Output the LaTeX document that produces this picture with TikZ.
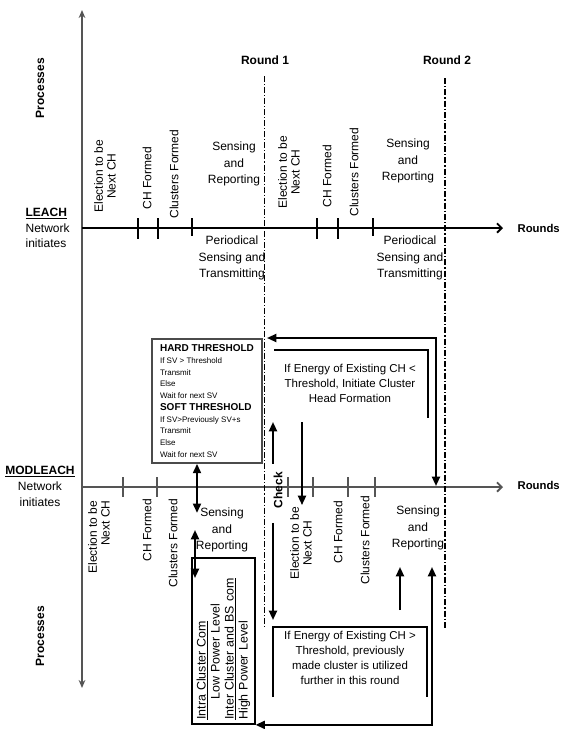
\documentclass[tikz,border=0pt]{standalone}
\usepackage{fontspec}
\setmainfont{Liberation Sans}
\usetikzlibrary{arrows.meta}
\definecolor{axisgray}{RGB}{85,85,85}
\definecolor{boxgray}{RGB}{75,75,75}

\tikzset{
  >={Triangle[length=7pt,width=6pt]},
  lbl/.style={font=\fontsize{9}{12.4}\selectfont, align=center, inner sep=1pt},
  vlbl/.style={lbl, rotate=90, font=\fontsize{9}{9.6}\selectfont},
  head/.style={font=\bfseries\fontsize{9}{11}\selectfont, inner sep=1pt},
  note/.style={font=\fontsize{8.6}{11.25}\selectfont, align=center, inner sep=1pt},
  flow/.style={line width=1.5pt},
  tickmark/.style={line width=1.1pt},
  bracket/.style={line width=1.4pt},
  roundline/.style={line width=0.6pt, dash pattern=on 4.5pt off 1.5pt on 0.8pt off 1.5pt},
  roundlinebold/.style={line width=1.3pt, dash pattern=on 4.5pt off 1.5pt on 1pt off 1.5pt},
  thrbox/.style={draw=boxgray, line width=1.3pt, minimum width=82.5pt, minimum height=93pt,
    align=left, inner sep=0pt, font=\fontsize{6}{8.8}\selectfont},
  combox/.style={draw, line width=1.3pt, rotate=90, minimum width=124.5pt, minimum height=42.75pt,
    text width=118pt, align=left, inner xsep=3pt, font=\fontsize{9.3}{10.5}\selectfont},
}
\newcommand{\thrhead}{\bfseries\fontsize{7.5}{8.8}\selectfont}

\begin{document}
\begin{tikzpicture}[x=0.75pt,y=0.75pt,yscale=-1,xscale=1]
\useasboundingbox (0,0) rectangle (561,729);

%Straight Lines (processes axis)
\coordinate (ptop) at (82,10);
\coordinate (pbot) at (82,688);
\draw[axisgray, line width=1.4pt, {Stealth[length=6pt,width=5pt]}-{Stealth[length=6pt,width=5pt]}] (ptop) -- (pbot);
%Straight Lines (LEACH rounds axis)
\coordinate (lo) at (82,228);
\coordinate (le) at (503,228);
\draw[line width=1.4pt, -{Straight Barb[length=3.5pt,width=7pt]}] (lo) -- (le);
%Straight Lines (MODLEACH rounds axis)
\coordinate (mo) at (82,487);
\coordinate (me) at (503,487);
\draw[axisgray, line width=1.4pt, -{Straight Barb[length=3.5pt,width=7pt]}] (mo) -- (me);

%Straight Lines (round borders)
\coordinate (r1top) at (264,76);
\coordinate (r1bot) at (264,628);
\draw[roundline] (r1top) -- (r1bot);
\coordinate (r2top) at (445,78);
\coordinate (r2bot) at (445,628);
\draw[roundlinebold] (r2top) -- (r2bot);

%Straight Lines (ticks)
\draw[tickmark] (138,218) -- (138,239);
\draw[tickmark] (158,218) -- (158,239);
\draw[tickmark] (192,218) -- (192,236);
\draw[tickmark] (317,218) -- (317,239);
\draw[tickmark] (338,218) -- (338,239);
\draw[tickmark] (373,218) -- (373,236);
\draw[tickmark, axisgray] (123,477) -- (123,497);
\draw[tickmark, axisgray] (157,477) -- (157,497);
\draw[tickmark, axisgray] (288,477) -- (288,497);
\draw[tickmark, axisgray] (313,477) -- (313,497);
\draw[tickmark, axisgray] (348,477) -- (348,497);
\draw[tickmark, axisgray] (375,477) -- (375,497);

% Text Node
\node[head, rotate=90] (proctop) at (40,88) {Processes};
\node[head, rotate=90] (procbot) at (40,636) {Processes};
\node[head] (r1lbl) at (265,60) {Round 1};
\node[head] (r2lbl) at (447,60) {Round 2};
\node[head, anchor=west, font=\bfseries\fontsize{8.5}{10}\selectfont] (lrounds) at (516,228) {Rounds};
\node[head, anchor=west, font=\bfseries\fontsize{8.5}{10}\selectfont] (mrounds) at (516,485) {Rounds};
\node[lbl, align=left, anchor=west, font=\fontsize{9}{11.6}\selectfont] (leach) at (24,228) {\textbf{\underline{LEACH}}\\Network\\initiates};
\node[lbl, font=\fontsize{9}{12}\selectfont] (modleach) at (40,486) {\textbf{\underline{MODLEACH}}\\Network\\initiates};

% Text Node (LEACH processes)
\node[vlbl] (lel) at (105,176) {Election to be\\Next CH};
\node[vlbl] (lch) at (147,178) {CH Formed};
\node[vlbl] (lcl) at (174,174) {Clusters Formed};
\node[lbl] (lsr) at (234,164) {Sensing\\and\\Reporting};
\node[vlbl] (lel2) at (289,172) {Election to be\\Next CH};
\node[vlbl] (lch2) at (327,176) {CH Formed};
\node[vlbl] (lcl2) at (354,172) {Clusters Formed};
\node[lbl] (lsr2) at (408,161) {Sensing\\and\\Reporting};
\node[lbl] (lpt) at (232,258) {Periodical\\Sensing and\\Transmitting};
\node[lbl] (lpt2) at (410,258) {Periodical\\Sensing and\\Transmitting};

% Text Node (MODLEACH processes)
\node[vlbl, align=right] (mel) at (99,537) {Election to be\\Next CH};
\node[vlbl] (mch) at (147,530) {CH Formed};
\node[vlbl] (mcl) at (173,543) {Clusters Formed};
\node[lbl] (msr) at (222,530) {Sensing\\and\\Reporting};
\node[head, rotate=90] (chk) at (278,490) {Check};
\node[vlbl] (mel2) at (301,543) {Election to be\\Next CH};
\node[vlbl] (mch2) at (338,532) {CH Formed};
\node[vlbl] (mcl2) at (365,540) {Clusters Formed};
\node[lbl] (msr2) at (418,528) {Sensing\\and\\Reporting};

% Text Node (thresholds)
\node[thrbox] (thr) at (207,401) {{\thrhead HARD THRESHOLD}\\If SV > Threshold\\Transmit\\Else\\Wait for next SV\\{\thrhead SOFT THRESHOLD}\\If SV>Previously SV+s\\Transmit\\Else\\Wait for next SV};
% Text Node (communication)
\node[combox] (com) at (223.5,641) {\underline{Intra Cluster Com}\\\hspace*{15pt}Low Power Level\\\underline{Inter Cluster and BS com}\\High Power Level};
% Text Node (energy checks)
\node[note] (ifless) at (350,383) {If Energy of Existing CH <\\Threshold, Initiate Cluster\\Head Formation};
\node[note] (ifmore) at (350,658) {If Energy of Existing CH >\\Threshold, previously\\made cluster is utilized\\further in this round};

%Straight Lines (brackets)
\coordinate (ubl) at (274,350);
\coordinate (ubr) at (428,350);
\coordinate (ube) at (428,418);
\draw[bracket] (ubl) -- (ubr) -- (ube);
\coordinate (lbl1) at (273,697);
\coordinate (lbl2) at (273,627);
\coordinate (lbl3) at (427,627);
\coordinate (lbl4) at (427,697);
\draw[bracket] (lbl1) -- (lbl2) -- (lbl3) -- (lbl4);

%Straight Lines (arrows)
\coordinate (fbl) at (267,338);
\coordinate (fbc) at (436,338);
\coordinate (fbb) at (436,486);
\draw[flow, <->] (fbl) -- (fbc) -- (fbb);
\coordinate (chkup) at (273,422);
\coordinate (chkdn) at (273,620);
\draw[flow, ->, shorten <=5pt] ([xshift=-3.75pt]chk.east) -- (chkup);
\draw[flow, ->, shorten <=10pt] ([xshift=-3.75pt]chk.west) -- (chkdn);
\coordinate (newch) at (302,422);
\draw[flow, ->] (newch) -- (newch |- mel2.east);
\draw[flow, <->] ([xshift=-7.5pt]thr.south) -- ++(0,49);
\coordinate (sra) at (195,530);
\coordinate (srb) at (195,578);
\draw[flow, <->] (sra) -- (srb);
\coordinate (keepa) at (400,610);
\coordinate (keepb) at (400,567);
\draw[flow, ->] (keepa) -- (keepb);
\coordinate (backc) at (432,725);
\coordinate (backt) at (432,567);
\draw[flow, <->] (com.south west) -- (com.south west -| backc) -- (backt);
\end{tikzpicture}
\end{document}
